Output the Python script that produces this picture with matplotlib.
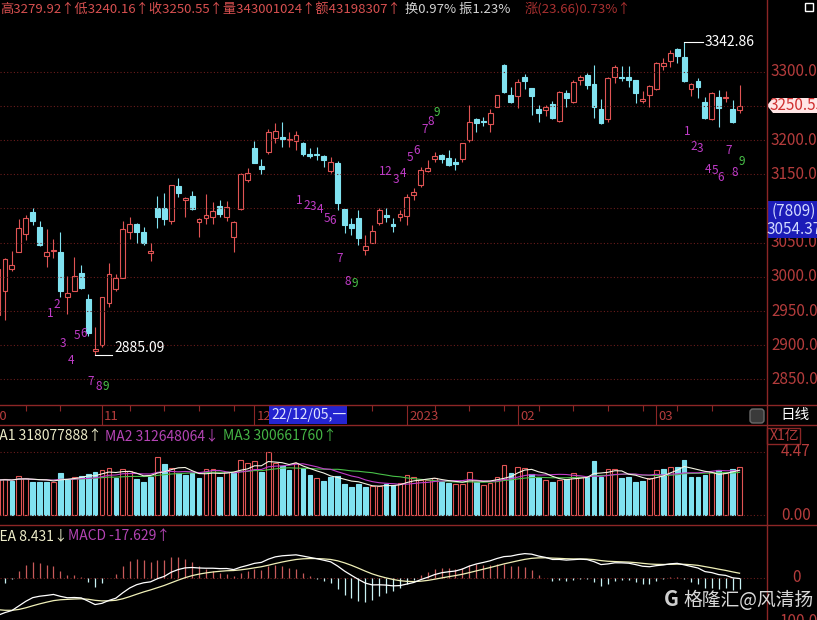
import numpy as np
import pandas as pd
import matplotlib
matplotlib.use("Agg")
import matplotlib.pyplot as plt
from matplotlib.patches import Rectangle, Polygon, FancyBboxPatch

plt.rcParams["font.family"] = ["Noto Sans CJK SC", "DejaVu Sans"]

W, H = 817, 620

# 上证指数日线, 2022-10-11 .. 2023-03-17 (序号 -1 .. 106)
opens = [2945, 2979, 3011, 3037, 3063, 3095, 3073, 3031, 3038, 3036, 2971, 2980, 3005, 2968, 2892, 2900,
         2962, 2982, 2999, 3065, 3078, 3066, 3034.5, 3100, 3101, 3082, 3133, 3113, 3118, 3080, 3085.6, 3088,
         3104, 3087, 3058, 3099, 3142, 3188, 3162, 3183, 3203, 3205, 3199.5, 3199, 3196, 3179.7, 3179.2, 3177.3,
         3155.3, 3166, 3099, 3078, 3085.6, 3039.3, 3050, 3079.3, 3090.5, 3077.4, 3087, 3089, 3119, 3134.4,
         3155.3, 3172, 3178.2, 3173.3, 3168.5, 3172, 3200.2, 3230.4, 3228.4, 3223.5, 3249, 3309.8, 3265.9, 3264.5,
         3291.8, 3275.7, 3245.5, 3244, 3252.8, 3228.4, 3268.4, 3256.2, 3287.9, 3295.2, 3282, 3245, 3230.4, 3292.7,
         3292.7, 3292, 3287.9, 3257.2, 3265.9, 3274.2, 3308.3, 3316.1, 3332.7, 3321, 3274.2, 3286.9, 3256.2, 3230.4,
         3262.5, 3261, 3245, 3243.5]
highs = [3020, 3027, 3038, 3084, 3090, 3100, 3081, 3070, 3056, 3066, 3002, 3029, 3018, 2975, 2927, 2971,
         3021, 3004, 3082, 3088, 3079, 3073, 3049, 3118, 3122, 3135, 3145, 3117, 3126, 3086, 3121, 3110,
         3113, 3111.5, 3081, 3152, 3159, 3199, 3172, 3216, 3224.5, 3227, 3212, 3214, 3197, 3188, 3190.4, 3178,
         3176, 3170, 3099.5, 3085.6, 3098, 3061, 3076, 3100.3, 3100.3, 3085.6, 3098, 3121, 3129.5, 3161,
         3171, 3183, 3179, 3185.5, 3173.3, 3196, 3251, 3233, 3233.3, 3245, 3266.5, 3311.3, 3278, 3288.8,
         3296.6, 3276.5, 3251.3, 3251.3, 3257.6, 3271.5, 3273.2, 3287.9, 3295.2, 3297.6, 3309.8, 3259.6, 3291.8, 3309.8,
         3308.3, 3308.3, 3288.5, 3272.3, 3280.6, 3314.7, 3319.6, 3331.7, 3334.2, 3342.86, 3284, 3290.3, 3263.5, 3270,
         3273.2, 3272.3, 3258.6, 3279.92]
lows = [2938, 2937, 3008, 3036, 3054, 3076, 3045, 3015, 3027, 2971, 2946, 2979, 2983, 2913, 2885.09, 2898,
        2956, 2979, 2998, 3056, 3049, 3047, 3023, 3072, 3076, 3077, 3117, 3088, 3098, 3058, 3078, 3077,
        3088, 3081, 3037, 3098, 3139, 3166, 3151, 3180, 3196, 3190, 3190, 3185.5, 3177, 3173.4, 3170.9, 3161,
        3152.4, 3098, 3064, 3061, 3047, 3032, 3049, 3076, 3080.8, 3066, 3082, 3076, 3112, 3132,
        3154, 3168.5, 3167, 3162.2, 3156.3, 3168.5, 3197.7, 3212, 3220.6, 3212.3, 3248.5, 3268.4, 3253.8, 3246.5,
        3274, 3236.7, 3227, 3235.2, 3230.4, 3227, 3247.9, 3253.8, 3280.6, 3274.2, 3231.8, 3223.5, 3227, 3284,
        3286.9, 3277.2, 3254.7, 3253.8, 3248.9, 3273.2, 3302.5, 3307.4, 3312.2, 3285.4, 3264.5, 3261, 3230.4, 3229.4,
        3218.7, 3256.2, 3225.5, 3240.16]
closes = [3012, 3026, 3017, 3072, 3086, 3082, 3047, 3036, 3039.3, 2980, 2977, 3001, 2984, 2918, 2894, 2970,
          3004, 2998, 3070, 3078, 3066, 3050, 3038, 3087, 3085, 3134, 3122, 3116, 3099, 3085, 3090.5, 3097,
          3091.5, 3101.7, 3080, 3150, 3151.4, 3167, 3157, 3212.5, 3213.3, 3202, 3201, 3207.5, 3180, 3177.3, 3177.5, 3171,
          3167.5, 3108.5, 3076, 3071, 3056.4, 3045.7, 3067, 3097.8, 3088, 3075, 3092, 3117, 3124.6, 3156.3,
          3158.7, 3176.8, 3172, 3163.6, 3165.1, 3195.3, 3227, 3225.5, 3226.5, 3240.1, 3265.9, 3270.8, 3256.2, 3284.5,
          3286.4, 3265, 3240.1, 3247.9, 3231.8, 3270.8, 3261, 3285.5, 3292.7, 3280.6, 3248.9, 3225.5, 3290.3, 3306.4,
          3290.3, 3288, 3268.4, 3259.6, 3279.1, 3313.2, 3312.2, 3327.8, 3323.4, 3286.9, 3282, 3277.2, 3231.8, 3269.4,
          3246.5, 3263.5, 3226.89, 3250.55]
# 成交量, 亿股
volumes = [2.48, 2.53, 2.44, 2.77, 2.60, 2.37, 2.37, 2.37, 2.37, 3.00, 2.53, 2.67, 2.77, 2.91, 3.07, 3.19,
           3.31, 2.60, 3.24, 3.15, 2.55, 2.37, 2.72, 4.09, 3.62, 3.31, 3.00, 2.84, 2.96, 2.60, 3.24, 3.24,
           2.72, 3.07, 2.96, 3.90, 3.71, 3.83, 3.07, 4.47, 3.71, 3.48, 3.19, 3.71, 3.31, 2.84, 2.60, 2.44,
           2.67, 2.77, 2.20, 1.96, 2.20, 1.96, 2.06, 2.06, 2.20, 2.13, 2.29, 2.84, 2.67, 2.48,
           2.48, 2.60, 2.37, 2.29, 2.20, 2.20, 3.07, 2.37, 2.13, 2.29, 2.67, 3.55, 3.00, 3.43,
           3.31, 2.91, 2.67, 2.48, 2.37, 2.48, 2.53, 3.00, 2.67, 2.67, 3.85, 2.72, 3.24, 3.24,
           2.60, 2.67, 2.37, 2.44, 2.60, 3.19, 3.26, 3.43, 3.43, 3.90, 2.67, 2.67, 2.84, 3.07,
           3.19, 2.96, 3.26, 3.43]

price_ticks = [2850, 2900, 2950, 3000, 3050, 3100, 3150, 3200, 3250, 3300]
price_labels = [2850, 2900, 2950, 3000, 3050, 3150, 3200, 3250, 3300]   # 3100 被光标框盖住
month_labels = ["10", "11", "12", "2023", "02", "03"]
month_pos = [-2, 14, 36, 58, 74, 94]
week_ticks = [3, 8, 18, 23, 28, 33, 43, 48, 53, 62, 67, 72, 77, 82, 87, 92, 97, 102]

# 九转序列标记
td_text = list("123456789") * 4
td_x = [6.5, 7.5, 8.4, 9.5, 10.4, 11.4, 12.4, 13.5, 14.5,
        42.5, 43.5, 44.4, 45.5, 46.5, 47.3, 48.3, 49.4, 50.4,
        54.4, 55.3, 56.4, 57.5, 58.4, 59.4, 60.5, 61.4, 62.3,
        98.5, 99.4, 100.3, 101.5, 102.5, 103.3, 104.4, 105.3, 106.3]
td_y = [2947, 2960, 2902, 2878, 2914, 2917, 2847, 2840, 2840,
        3112, 3105, 3103, 3098, 3086, 3082, 3027, 2993, 2991,
        3154, 3154, 3142, 3151, 3175, 3185, 3216, 3227, 3241,
        3212, 3190, 3188, 3157, 3156, 3146, 3185, 3152, 3168]

# MACD(12,26,9) 起算状态: 图左侧之前的 EMA12 / EMA26 / DEA
macd_seed = (3030.0, 3095.0, -50.0)

RED = "#e05454"
CYAN = "#80e2f0"
GRID = "#6a1c1c"
FRAME = "#8c2626"
AXTXT = "#b43c3c"
MAG = "#c03cc8"
GRN = "#48c048"

fig = plt.figure(figsize=(W / 100, H / 100), dpi=100, facecolor="black")


def panel(x0, y0, x1, y1):
    a = fig.add_axes([x0 / W, 1 - y1 / H, (x1 - x0) / W, (y1 - y0) / H])
    a.set_facecolor("black")
    a.set_xlim(-0.72, 109.96)
    for s in a.spines.values():
        s.set_visible(False)
    a.set_xticks([])
    a.set_yticks([])
    return a


x = np.arange(-1, 107)
o, h, l, c = (np.array(v, dtype=float) for v in (opens, highs, lows, closes))
vol = np.array(volumes)

# ---- K线 ----
ax = panel(0, 0, 767, 405)
ax.set_ylim(2812.7, 3404.8)
for p in price_ticks:
    ax.axhline(p, color=GRID, lw=0.8, ls=(0, (1, 2)))
bw = 0.7
for xi, oi, hi, li, ci in zip(x, o, h, l, c):
    col = RED if ci >= oi else CYAN
    top, bot = max(oi, ci), min(oi, ci)
    ax.vlines(xi, top, hi, color=col, lw=0.8)
    ax.vlines(xi, li, bot, color=col, lw=0.8)
    if top - bot < 1.0:
        ax.hlines(ci, xi - bw / 2, xi + bw / 2, color=col, lw=0.9)
    else:
        ax.add_patch(Rectangle((xi - bw / 2, bot), bw, top - bot, lw=0.8, edgecolor=col,
                               facecolor="black" if ci >= oi else col))

ilo, ihi = int(np.argmin(l)), int(np.argmax(h))
ax.plot([x[ilo], x[ilo] + 2.4], [l[ilo], l[ilo]], color="white", lw=0.8)
ax.text(x[ilo] + 2.75, l[ilo], f"{l[ilo]:.2f}", color="white", fontsize=10, va="bottom", ha="left")
ax.plot([x[ihi], x[ihi] + 2.75], [h[ihi], h[ihi]], color="white", lw=0.8)
ax.text(x[ihi] + 3.0, h[ihi], f"{h[ihi]:.2f}", color="white", fontsize=10, va="center", ha="left")

for t, tx, ty in zip(td_text, td_x, td_y):
    ax.text(tx, ty, t, color=GRN if t == "9" else MAG, fontsize=8.5, ha="center", va="center")

yt = ax.get_yaxis_transform()
for p in price_labels:
    ax.text(771 / 767, p, f"{p:.2f}", transform=yt, clip_on=False, color=AXTXT, fontsize=11,
            va="center", ha="left")

# ---- 日期 ----
axd = panel(0, 405, 767, 425)
axd.set_ylim(0, 1)
for wt in week_ticks:
    axd.vlines(wt, 0.72, 1, color=FRAME, lw=0.8)
for lab, m in zip(month_labels, month_pos):
    axd.vlines(m, 0, 1, color=FRAME, lw=0.8)
    axd.text(m + 0.3, 0.45, lab, color=AXTXT, fontsize=9.5, va="center", ha="left")

# ---- 成交量 ----
axv = panel(0, 425, 767, 525)
axv.set_ylim(-0.71, 6.39)
axv.axhline(4.47, color=GRID, lw=0.8, ls=(0, (1, 2)))
axv.axhline(0, color=GRID, lw=0.8, ls=(0, (1, 2)))
prev = np.concatenate([[o[0]], c[:-1]])
for xi, v, ci, pi in zip(x, vol, c, prev):
    up = ci >= pi
    col = RED if up else CYAN
    axv.add_patch(Rectangle((xi - 0.34, 0), 0.68, v, lw=0.8, edgecolor=col,
                            facecolor="black" if up else col))
vs = pd.Series(vol)
axv.plot(x, vs.rolling(20, min_periods=1).mean(), color=GRN, lw=0.8)
axv.plot(x, vs.rolling(10, min_periods=1).mean(), color=MAG, lw=0.8)
axv.plot(x, vs.rolling(5, min_periods=1).mean(), color="#f4f4e4", lw=0.8)

# ---- MACD ----
axm = panel(0, 525, 767, 620)
axm.set_ylim(-69.5, 88.8)
axm.axhline(0, color=GRID, lw=0.8, ls=(0, (1, 2)))
e12, e26, dea = macd_seed
difs, deas = [], []
for ci in c:
    e12 += (ci - e12) * 2 / 13
    e26 += (ci - e26) * 2 / 27
    d = e12 - e26
    dea += (d - dea) * 2 / 10
    difs.append(d)
    deas.append(dea)
difs, deas = np.array(difs), np.array(deas)
hist = 2 * (difs - deas)
axm.vlines(x, 0, hist, colors=[("#c85a5a" if v >= 0 else "#c8f2f4") for v in hist], lw=0.9)
axm.plot(x, deas, color="#f0f0b8", lw=0.9)
axm.plot(x, difs, color="white", lw=0.9)

# ---- 叠加文字与框 ----
ov = fig.add_axes([0, 0, 1, 1])
ov.set_xlim(0, W)
ov.set_ylim(H, 0)
ov.axis("off")

for yy in (405, 425, 525):
    ov.plot([0, W], [yy, yy], color=FRAME, lw=1)
ov.plot([767, 767], [0, H], color=FRAME, lw=1)

ov.text(0, 9, "高3279.92↑低3240.16↑收3250.55↑量343001024↑额43198307↑", color="#d85050",
        fontsize=9.5, va="center", ha="left")
ov.text(405, 9, "换0.97% 振1.23%", color="#d4d4d4", fontsize=9.5, va="center", ha="left")
ov.text(525, 9, "涨(23.66)0.73%↑", color="#a83030", fontsize=9.5, va="center", ha="left")
ov.add_patch(Rectangle((805, 3), 8, 8, fill=False, edgecolor="white", lw=1))

# 现价标签
yc = H - ax.transData.transform((0, closes[-1]))[1]
ov.add_patch(Polygon([(767, yc), (773, yc - 7.5), (817, yc - 7.5), (817, yc + 7.5), (773, yc + 7.5)],
                     closed=True, facecolor="#ffe6e6", edgecolor="none"))
ov.text(770, yc, f"{closes[-1]:.2f}", color="#d03030", fontsize=11, va="center", ha="left")

# 光标数值框
ov.add_patch(Rectangle((767, 201), 50, 37, facecolor="#1c1cb8", edgecolor="none"))
ov.text(772, 211, "(7809)", color="#d0d8ff", fontsize=11, va="center", ha="left")
ov.text(767, 229, "3054.37", color="#d0d8ff", fontsize=11, va="center", ha="left")

ov.add_patch(Rectangle((269, 406), 78, 18, facecolor="#2424d0", edgecolor="none"))
ov.text(271, 415, "22/12/05,一", color="#e0e4ff", fontsize=10, va="center", ha="left")

ov.add_patch(FancyBboxPatch((750, 409), 14, 14, boxstyle="round,pad=0,rounding_size=3",
                            facecolor="#3a3a3a", edgecolor="#6a6a6a", lw=1))
ov.text(780, 415, "日线", color="white", fontsize=10.5, va="center", ha="left")

ov.add_patch(Rectangle((767, 428), 33, 16, fill=False, edgecolor=FRAME, lw=1))
ov.text(770, 436, "X1亿", color=AXTXT, fontsize=10, va="center", ha="left")
ov.text(811, 452, "4.47", color=AXTXT, fontsize=11, va="center", ha="right")
ov.text(811, 515, "0.00", color=AXTXT, fontsize=11, va="center", ha="right")
ov.text(797, 578, "0", color=AXTXT, fontsize=11, va="center", ha="center")
ov.text(780, 613, "100.00", color=AXTXT, fontsize=11, va="top", ha="left")

ov.text(-12, 436, "MA1 318077888↑", color="#ecebc8", fontsize=10, va="center", ha="left")
ov.text(105, 436, "MA2 312648064↓", color="#b444b4", fontsize=10, va="center", ha="left")
ov.text(223, 436, "MA3 300661760↑", color="#44b444", fontsize=10, va="center", ha="left")
ov.text(-10, 536, "DEA 8.431↓", color="#ecebc8", fontsize=10, va="center", ha="left")
ov.text(68, 536, "MACD -17.629↑", color="#b444b4", fontsize=10, va="center", ha="left")

ov.text(671, 600, "G", color="#cfcfcf", fontsize=15, fontweight="bold", va="center", ha="center")
ov.text(683, 600, "格隆汇@风清扬", color="#d8d8d8", fontsize=13.5, va="center", ha="left")

fig.savefig("out.png", dpi=100, facecolor="black")
